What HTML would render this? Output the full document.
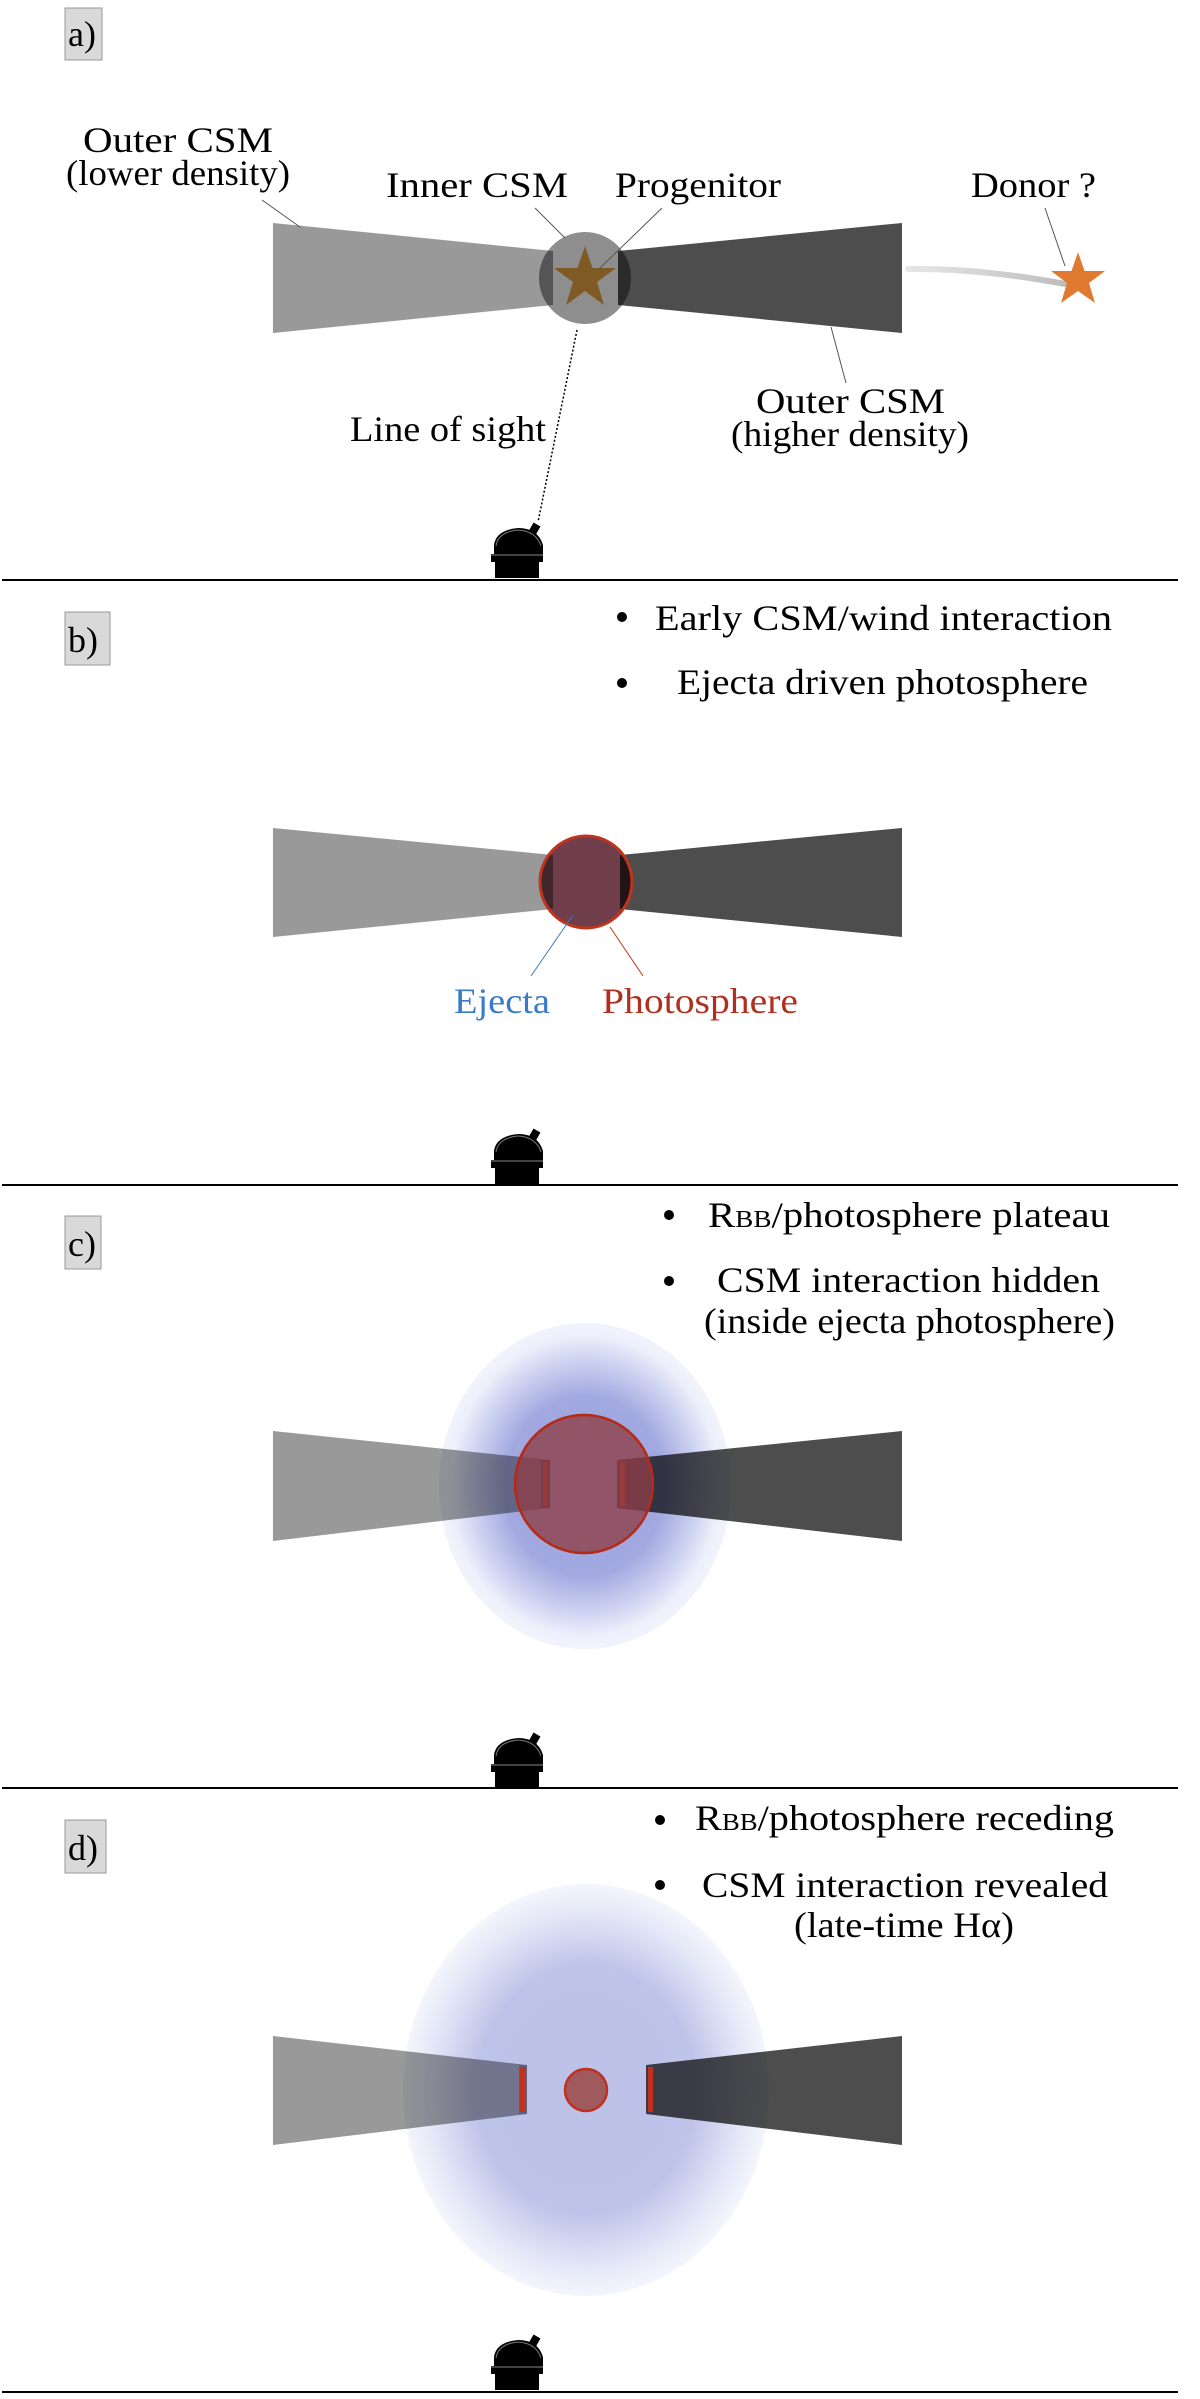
<!DOCTYPE html>
<html><head><meta charset="utf-8"><style>
html,body{margin:0;padding:0;background:#fff;}
svg{display:block;font-family:"Liberation Serif","DejaVu Serif",serif;}
svg text{font-family:"Liberation Serif","DejaVu Serif",serif !important;}
</style></head><body>
<svg width="1200" height="2399" viewBox="0 0 1200 2399" xmlns="http://www.w3.org/2000/svg" font-family="Liberation Serif, DejaVu Serif, serif">
<defs>
<g id="tel">
<path d="M494,554 L494,545 Q496,530 518,528 Q538,528 543,545 L543,554 Z" fill="#000"/>
<path d="M496,546 Q498,532 518,530 Q536,531 541,546" fill="none" stroke="#777" stroke-width="1"/>
<rect x="531" y="524" width="8" height="9" fill="#000" transform="rotate(30 535 528)"/>
<rect x="491" y="554" width="52" height="8" fill="#000"/>
<line x1="491" y1="555" x2="543" y2="555" stroke="#888" stroke-width="1"/>
<rect x="495" y="562" width="44" height="16" fill="#000"/>
</g>
<radialGradient id="gc" cx="0.5" cy="0.5" r="0.5">
<stop offset="0" stop-color="#9aa2de"/>
<stop offset="0.55" stop-color="#a2a9e0"/>
<stop offset="0.8" stop-color="#d3d7f3"/>
<stop offset="0.92" stop-color="#edeffb"/>
<stop offset="1" stop-color="#f1f3fc"/>
</radialGradient>
<radialGradient id="gd" cx="0.5" cy="0.5" r="0.5">
<stop offset="0" stop-color="#bbc1e8"/>
<stop offset="0.6" stop-color="#bec3e9"/>
<stop offset="0.85" stop-color="#e3e6f7"/>
<stop offset="1" stop-color="#f4f5fc"/>
</radialGradient>
<linearGradient id="trail" x1="0" x2="1">
<stop offset="0" stop-color="#e6e6e6"/>
<stop offset="0.6" stop-color="#cfcfcf"/>
<stop offset="1" stop-color="#bdbdbd"/>
</linearGradient>
</defs>

<!-- ===== Panel a ===== -->
<rect x="65" y="8" width="37" height="52" fill="#d9d9d9" stroke="#999" stroke-width="1"/>
<text x="68" y="46" font-size="36">a)</text>
<polygon points="273,223 553,251 553,305 273,333" fill="#999"/>
<polygon points="618,251 902,223 902,333 618,305" fill="#4d4d4d"/>
<circle cx="585" cy="278" r="46" fill="#8e8e8e" style="mix-blend-mode:multiply"/>
<polygon points="585,246 592.5,268 616,268 597,282 604,305 585,291 566,305 573,282 554,268 577.5,268" fill="#7f5a22"/>
<path d="M908,269 Q980,268 1065,284" stroke="url(#trail)" stroke-width="6" fill="none" stroke-linecap="round"/>
<polygon points="1078,252 1084.5,271 1105,271 1089,283 1095,303 1078,291 1061,303 1067,283 1051,271 1071.5,271" fill="#e07a30"/>
<g stroke="#555" stroke-width="1">
<line x1="262" y1="200" x2="300" y2="227"/>
<line x1="535" y1="208" x2="565" y2="238"/>
<line x1="662" y1="208" x2="598" y2="270"/>
<line x1="1045" y1="208" x2="1065" y2="266"/>
<line x1="831" y1="327" x2="846" y2="383"/>
</g>
<line x1="577" y1="330" x2="538" y2="522" stroke="#000" stroke-width="1.5" stroke-dasharray="2,2"/>
<text x="83" y="152" font-size="36" textLength="190" lengthAdjust="spacingAndGlyphs">Outer CSM</text>
<text x="66" y="185" font-size="36" textLength="224" lengthAdjust="spacingAndGlyphs">(lower density)</text>
<text x="386" y="197" font-size="36" textLength="182" lengthAdjust="spacingAndGlyphs">Inner CSM</text>
<text x="615" y="197" font-size="36" textLength="166" lengthAdjust="spacingAndGlyphs">Progenitor</text>
<text x="971" y="197" font-size="36" textLength="125" lengthAdjust="spacingAndGlyphs">Donor ?</text>
<text x="350" y="441" font-size="36" textLength="196" lengthAdjust="spacingAndGlyphs">Line of sight</text>
<text x="756" y="413" font-size="36" textLength="189" lengthAdjust="spacingAndGlyphs">Outer CSM</text>
<text x="731" y="446" font-size="36" textLength="238" lengthAdjust="spacingAndGlyphs">(higher density)</text>
<use href="#tel"/>
<rect x="2" y="579" width="1176" height="2" fill="#000"/>

<!-- ===== Panel b ===== -->
<rect x="65" y="612" width="45" height="53" fill="#d9d9d9" stroke="#999" stroke-width="1"/>
<text x="68" y="652" font-size="36">b)</text>
<circle cx="622" cy="617" r="5"/>
<text x="655" y="630" font-size="36" textLength="457" lengthAdjust="spacingAndGlyphs">Early CSM/wind interaction</text>
<circle cx="622" cy="683" r="5"/>
<text x="677" y="694" font-size="36" textLength="411" lengthAdjust="spacingAndGlyphs">Ejecta driven photosphere</text>
<polygon points="273,828 553,855 553,909 273,937" fill="#999"/>
<polygon points="620,855 902,828 902,937 620,909" fill="#4d4d4d"/>
<circle cx="586" cy="882" r="46" fill="#6f3e4a" style="mix-blend-mode:multiply"/>
<circle cx="586" cy="882" r="46" fill="none" stroke="#c0341e" stroke-width="3"/>
<line x1="573" y1="915" x2="531" y2="976" stroke="#3a7bc8" stroke-width="1"/>
<line x1="610" y1="927" x2="643" y2="976" stroke="#c0341e" stroke-width="1"/>
<text x="454" y="1013" font-size="36" style="fill:#3a7bc8" textLength="96" lengthAdjust="spacingAndGlyphs">Ejecta</text>
<text x="602" y="1013" font-size="36" style="fill:#b03020" textLength="196" lengthAdjust="spacingAndGlyphs">Photosphere</text>
<use href="#tel" transform="translate(0,606)"/>
<rect x="2" y="1184" width="1176" height="2" fill="#000"/>

<!-- ===== Panel c ===== -->
<rect x="65" y="1216" width="36" height="53" fill="#d9d9d9" stroke="#999" stroke-width="1"/>
<text x="68" y="1256" font-size="36">c)</text>
<circle cx="669" cy="1215" r="5"/>
<text x="708" y="1227" font-size="36" textLength="402" lengthAdjust="spacingAndGlyphs">R<tspan font-size="24">BB</tspan>/photosphere plateau</text>
<circle cx="669" cy="1281" r="5"/>
<text x="717" y="1292" font-size="36" textLength="383" lengthAdjust="spacingAndGlyphs">CSM interaction hidden</text>
<text x="704" y="1333" font-size="36" textLength="411" lengthAdjust="spacingAndGlyphs">(inside ejecta photosphere)</text>
<polygon points="273,1431 550,1460 550,1508 273,1541" fill="#999"/>
<polygon points="617,1460 902,1431 902,1541 617,1508" fill="#4d4d4d"/>
<ellipse cx="585" cy="1486" rx="146" ry="163" fill="url(#gc)" style="mix-blend-mode:multiply"/>
<rect x="541" y="1460" width="9" height="48" fill="#3a3a4a"/>
<rect x="543" y="1462" width="5" height="44" fill="#c0301c"/>
<rect x="617" y="1460" width="10" height="48" fill="#3a3a4a"/>
<rect x="620" y="1462" width="5" height="44" fill="#c0301c"/>
<circle cx="584" cy="1484" r="69" fill="#8e3e46" fill-opacity="0.78"/>
<circle cx="584" cy="1484" r="69" fill="none" stroke="#b52a14" stroke-width="2.5"/>
<use href="#tel" transform="translate(0,1210)"/>
<rect x="2" y="1787" width="1176" height="2" fill="#000"/>

<!-- ===== Panel d ===== -->
<rect x="65" y="1820" width="41" height="53" fill="#d9d9d9" stroke="#999" stroke-width="1"/>
<text x="68" y="1860" font-size="36">d)</text>
<circle cx="660" cy="1820" r="5"/>
<text x="695" y="1830" font-size="36" textLength="419" lengthAdjust="spacingAndGlyphs">R<tspan font-size="24">BB</tspan>/photosphere receding</text>
<circle cx="660" cy="1885" r="5"/>
<text x="702" y="1897" font-size="36" textLength="406" lengthAdjust="spacingAndGlyphs">CSM interaction revealed</text>
<text x="794" y="1937" font-size="36" textLength="220" lengthAdjust="spacingAndGlyphs">(late-time Hα)</text>
<polygon points="273,2036 527,2065 527,2114 273,2145" fill="#999"/>
<polygon points="646,2065 902,2036 902,2145 646,2114" fill="#4d4d4d"/>
<ellipse cx="586" cy="2090" rx="183" ry="206" fill="url(#gd)" style="mix-blend-mode:multiply"/>
<rect x="519" y="2065" width="8" height="49" fill="#5a5f80"/>
<rect x="520" y="2067" width="5" height="45" fill="#c0301c"/>
<rect x="646" y="2065" width="8" height="49" fill="#3a3a4a"/>
<rect x="648" y="2067" width="5" height="45" fill="#c0301c"/>
<circle cx="586" cy="2090" r="21" fill="#a05a5e"/>
<circle cx="586" cy="2090" r="21" fill="none" stroke="#c0301c" stroke-width="2.5"/>
<use href="#tel" transform="translate(0,1812)"/>
<rect x="2" y="2391" width="1176" height="2" fill="#000"/>
</svg>
</body></html>
